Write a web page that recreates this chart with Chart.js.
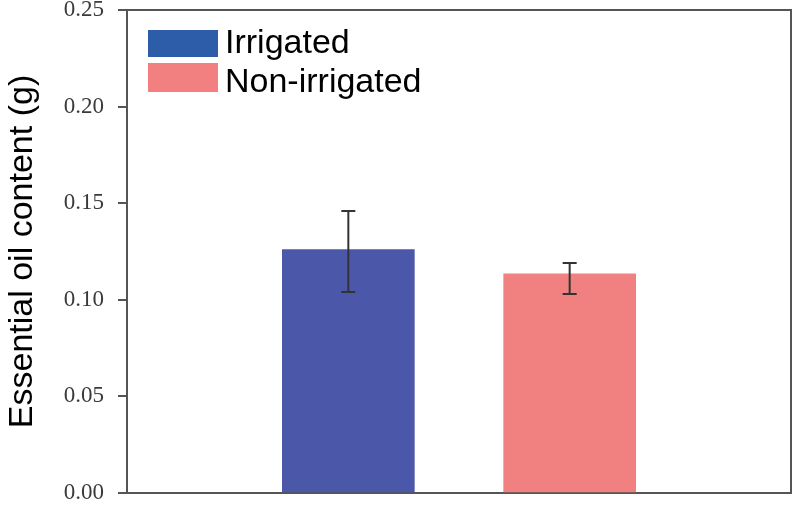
<!DOCTYPE html>
<html>
<head>
<meta charset="utf-8">
<script src="https://cdn.jsdelivr.net/npm/chart.js@4"></script>
<style>
html,body{margin:0;padding:0;background:#fff;}
#wrap{width:800px;height:510px;position:relative;}
</style>
</head>
<body>
<div id="wrap"><canvas id="c"></canvas></div>
<script>
const categories = ['Irrigated', 'Non-irrigated'];
const means = [0.126, 0.1135];
const errHigh = [0.146, 0.119];
const errLow = [0.104, 0.103];
const yTicks = [0.00, 0.05, 0.10, 0.15, 0.20, 0.25];
const axisTitle = 'Essential oil content (g)';

const barColors = ['#4b57a8', '#f18080'];
const legendColors = ['#2d5ca9', '#f28080'];

// x slots: blank, categories..., blank
const slots = [''].concat(categories, ['']);
const datasets = categories.map((name, i) => {
  const d = slots.map(() => null);
  d[i + 1] = means[i];
  return {
    label: name,
    data: d,
    backgroundColor: barColors[i],
    borderWidth: 0,
    barThickness: 132,
    grouped: false
  };
});

const extras = {
  id: 'extras',
  afterDatasetsDraw(chart) {
    const ctx = chart.ctx;
    const ys = chart.scales.y;
    const a = chart.chartArea;
    ctx.save();
    ctx.strokeStyle = '#555';
    ctx.lineWidth = 2;
    ctx.beginPath();
    ctx.moveTo(a.left, a.top);
    ctx.lineTo(a.right, a.top);
    ctx.lineTo(a.right, a.bottom);
    ctx.stroke();
    ctx.strokeStyle = '#333';
    ctx.lineWidth = 2;
    categories.forEach((c, i) => {
      const el = chart.getDatasetMeta(i).data[i + 1];
      const x = el.x;
      const yh = ys.getPixelForValue(errHigh[i]);
      const yl = ys.getPixelForValue(errLow[i]);
      ctx.beginPath();
      ctx.moveTo(x, yh); ctx.lineTo(x, yl);
      ctx.moveTo(x - 7, yh); ctx.lineTo(x + 7, yh);
      ctx.moveTo(x - 7, yl); ctx.lineTo(x + 7, yl);
      ctx.stroke();
    });
    ctx.font = '34px "Liberation Sans", Arial, sans-serif';
    ctx.textBaseline = 'alphabetic';
    const boxY = [a.top + 20, a.top + 53];
    const boxH = [27, 29];
    const baseY = [a.top + 43, a.top + 82];
    chart.data.datasets.forEach((ds, i) => {
      const bx = a.left + 21;
      ctx.fillStyle = legendColors[i];
      ctx.fillRect(bx, boxY[i], 70, boxH[i]);
      ctx.fillStyle = '#000';
      ctx.fillText(ds.label, bx + 77, baseY[i]);
    });
    ctx.restore();
  }
};

new Chart(document.getElementById('c'), {
  type: 'bar',
  data: { labels: slots, datasets: datasets },
  options: {
    responsive: true,
    maintainAspectRatio: false,
    animation: false,
    layout: { padding: { top: 10, right: 9, left: 2, bottom: 0 } },
    plugins: { legend: { display: false }, tooltip: { enabled: false } },
    scales: {
      x: {
        type: 'category',
        offset: false,
        ticks: { display: false },
        grid: { display: false },
        border: { display: true, color: '#555', width: 2 },
        afterFit(s) { s.height = 17; s.paddingLeft = 0; s.paddingRight = 0; }
      },
      y: {
        min: 0, max: 0.25,
        afterBuildTicks(s) { s.ticks = yTicks.map(v => ({ value: v })); },
        ticks: {
          padding: 14,
          color: '#3a3a3a',
          font: { family: '"Liberation Serif", "Times New Roman", serif', size: 23 },
          callback: v => Number(v).toFixed(2)
        },
        grid: { drawOnChartArea: false, drawTicks: true, tickLength: 9, color: '#555', lineWidth: 2 },
        border: { display: true, color: '#555', width: 2 },
        title: {
          display: true, text: axisTitle, color: '#000',
          font: { family: '"Liberation Sans", Arial, sans-serif', size: 34 },
          padding: { top: 0, bottom: 4 }
        },
        afterFit(s) { s.width = 125; s.paddingTop = 0; s.paddingBottom = 0; }
      }
    }
  },
  plugins: [extras]
});
</script>
</body>
</html>
